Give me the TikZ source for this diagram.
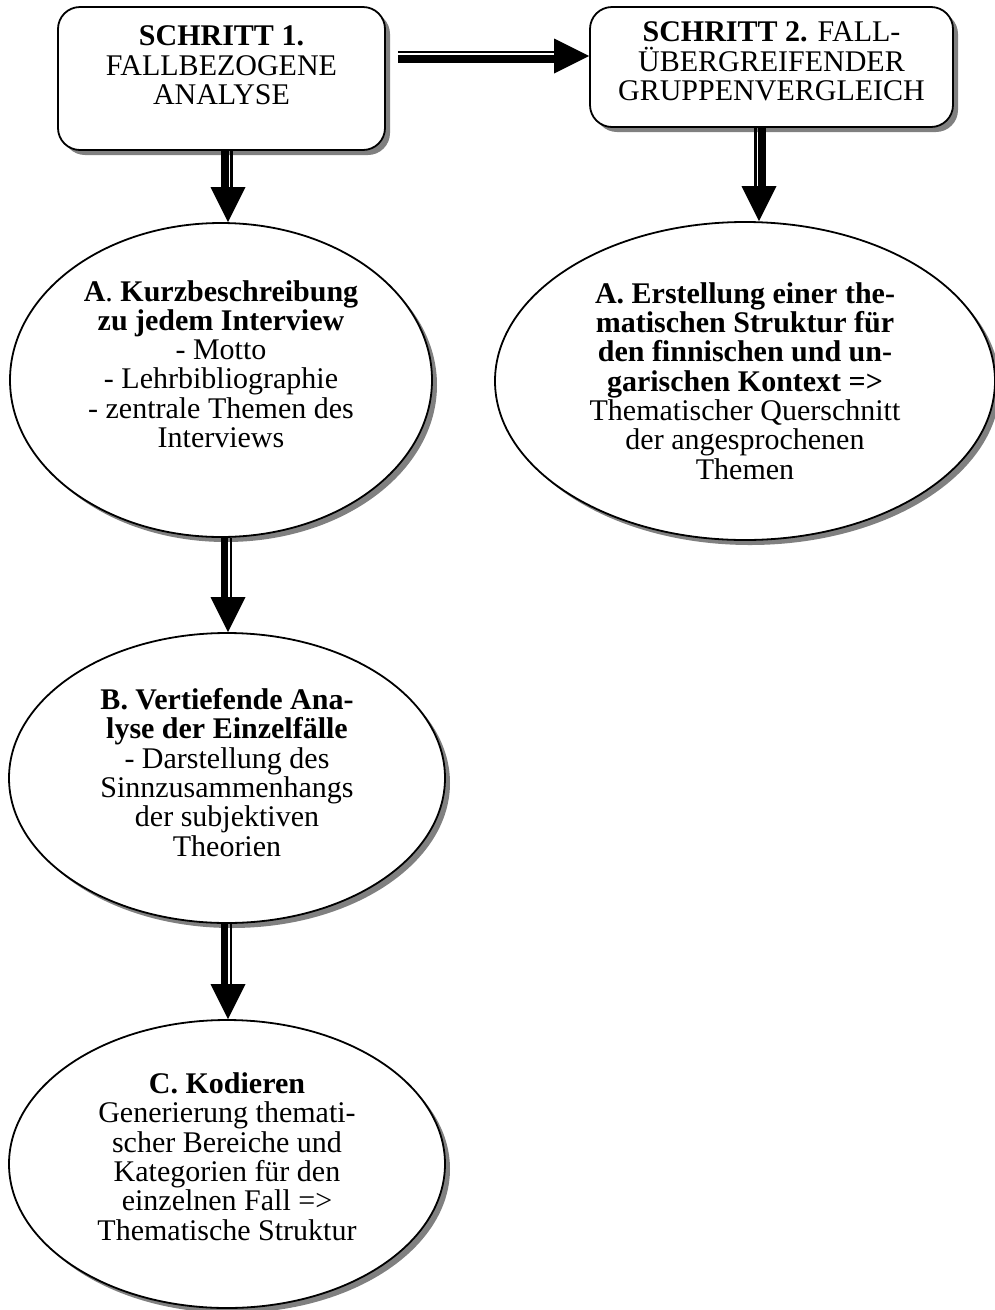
\documentclass[tikz,border=0pt]{standalone}
\usepackage{fontspec}
\setmainfont{Liberation Serif}
\usetikzlibrary{shapes.geometric}
\usetikzlibrary{shadows}
\newcommand\headdown[1]{
  \fill (#1) -- ++(-17.5, -35) -- ++(35, 0) -- cycle;}
\newcommand\headright[1]{
  \fill (#1) -- ++(-35, -17.5) -- ++(0, 35) -- cycle;}

\begin{document}
\begin{tikzpicture}[x = 1pt, y = -1pt,
  font = \fontsize{30}{29.3}\selectfont,
  shadowed/.style = {draw, line width = 1.8pt, fill = white, align = center,
    inner sep = 0pt, drop shadow = {shadow xshift = 5pt, shadow yshift = -5pt,
    fill = black!50, opacity = 1}},
  stepbox/.style = {shadowed, rounded corners = 22pt},
  phase/.style = {shadowed, ellipse},
  thickbar/.style = {line width = 7.8pt, shorten >= 33pt},
  thinbar/.style = {line width = 2.3pt, shorten >= 33pt}]

  \useasboundingbox (0, 0) rectangle (995, 1310);

  \node[stepbox, minimum width = 327pt, minimum height = 143pt] (s1)
    at (221.5, 78.5) {\textbf{SCHRITT 1.}\\ FALLBEZOGENE\\ ANALYSE\\[-3pt]};
  \node[stepbox, minimum width = 363pt, minimum height = 120pt] (s2)
    at (771.5, 67) {\textbf{SCHRITT 2.} FALL-\\ ÜBERGREIFENDER\\
    GRUPPENVERGLEICH\\[-18pt]};

  \node[phase, minimum width = 422pt, minimum height = 314pt] (a1)
    at (221, 380) {\textbf{A}.\ \textbf{Kurzbeschreibung}\\
    \textbf{zu jedem Interview}\\ - Motto\\ - Lehrbibliographie\\
    - zentrale Themen des\\ Interviews\\[3pt]};
  \node[phase, minimum width = 500pt, minimum height = 318pt] (a2)
    at (745, 381) {\textbf{A. Erstellung einer the-}\\
    \textbf{matischen Struktur für}\\ \textbf{den finnischen und un-}\\
    \textbf{garischen Kontext =>}\\ Thematischer Querschnitt\\
    der angesprochenen\\ Themen};
  \node[phase, minimum width = 436pt, minimum height = 290pt] (b)
    at (227, 778) {\textbf{B. Vertiefende Ana-}\\
    \textbf{lyse der Einzelfälle}\\ - Darstellung des\\
    Sinnzusammenhangs\\ der subjektiven\\ Theorien\\[-18pt]};
  \node[phase, minimum width = 436pt, minimum height = 288pt] (c)
    at (227, 1164) {\textbf{C. Kodieren}\\ Generierung themati-\\
    scher Bereiche und\\ Kategorien für den\\ einzelnen Fall =>\\
    Thematische Struktur\\[-14pt]};

  \coordinate (lx) at (228, 0);
  \coordinate (rx) at (759, 0);
  \coordinate (hy) at (0, 56);

  % Schritt 1 -> Schritt 2
  \coordinate (hs) at ([xshift = 12pt]s1.east |- hy);
  \coordinate (htip) at (s2.west |- hy);
  \draw[thinbar] ([yshift = 3.8pt]hs) -- ([yshift = 3.8pt]htip);
  \draw[thickbar] ([yshift = -3pt]hs) -- ([yshift = -3pt]htip);
  \headright{htip}

  % Schritt 1 -> A
  \coordinate (tip1) at (a1.north -| lx);
  \draw[thickbar] ([xshift = -3pt]s1.south -| lx) -- ([xshift = -3pt]tip1);
  \draw[thinbar] ([xshift = 3.5pt]s1.south -| lx) -- ([xshift = 3.5pt]tip1);
  \headdown{tip1}

  % Schritt 2 -> A
  \coordinate (tip2) at (a2.north -| rx);
  \draw[thinbar] ([xshift = -3.5pt]s2.south -| rx) -- ([xshift = -3.5pt]tip2);
  \draw[thickbar] ([xshift = 3pt]s2.south -| rx) -- ([xshift = 3pt]tip2);
  \headdown{tip2}

  % A -> B
  \coordinate (tip3) at (b.north -| lx);
  \draw[thickbar] ([xshift = -3.5pt]a1.south -| lx) -- ([xshift = -3.5pt]tip3);
  \draw[thinbar] ([xshift = 3pt]a1.south -| lx) -- ([xshift = 3pt]tip3);
  \headdown{tip3}

  % B -> C
  \coordinate (tip4) at (c.north -| lx);
  \draw[thickbar] ([xshift = -3.5pt]b.south -| lx) -- ([xshift = -3.5pt]tip4);
  \draw[thinbar] ([xshift = 3pt]b.south -| lx) -- ([xshift = 3pt]tip4);
  \headdown{tip4}
\end{tikzpicture}
\end{document}
